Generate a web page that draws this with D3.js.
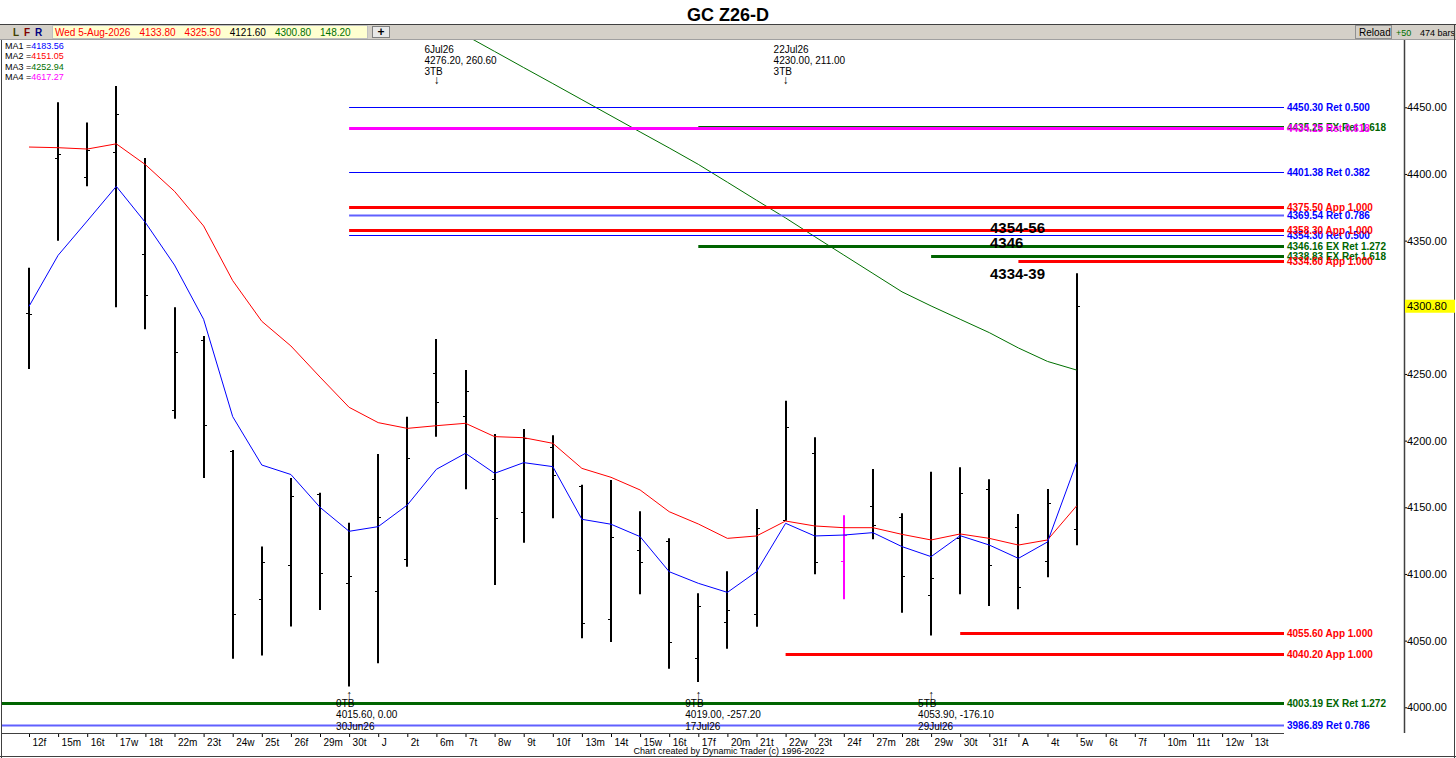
<!DOCTYPE html>
<html>
<head>
<meta charset="utf-8">
<script src="https://cdn.jsdelivr.net/npm/d3@7"></script>
<style>
  body { margin: 0; background: #fff; }
  text { font-family: "Liberation Sans", Arial, sans-serif; }
</style>
</head>
<body>
<div id="container"></div>
<script>
const width = 1456, height = 758;

/* DATA */
const title = "GC Z26-D";
const days = ["12f","15m","16t","17w","18t","22m","23t","24w","25t","26f",
  "29m","30t","J","2t","6m","7t","8w","9t","10f","13m",
  "14t","15w","16t","17f","20m","21t","22w","23t","24f","27m",
  "28t","29w","30t","31f","A","4t","5w","6t","7f","10m",
  "11t","12w","13t"];

const opens  = [4295.5,4412,4398,4416.5,4340,4223,4275.5,4192,4081,4106.8,
  4160,4093.5,4087,4111,4250.5,4218.5,4171,4146.7,4195,4166,
  4066,4118,4125,4037,4064,4070,4140.5,4190.5,4109.7,4151,
  4143,4084,4126.7,4163.7,4135.5,4109.7,4133.8];
const highs  = [4329.6,4453.7,4438.6,4466,4412,4300,4278.5,4193,4120.6,4172,
  4161,4138.5,4190,4218,4276.2,4253,4205,4208.7,4204,4167,
  4170.5,4147,4126.7,4085.5,4102,4148.7,4230,4202.5,4144,4178.7,
  4145.5,4176.7,4180,4171,4145,4163.7,4325.5];
const lows   = [4253.8,4350,4390.8,4300,4283.5,4216.5,4172,4036.5,4038.8,4060.6,
  4073,4015.6,4033,4105.5,4203,4163.5,4091.7,4123.5,4141.7,4051.7,
  4049,4084.7,4029,4019,4044,4060.5,4140,4099.7,4081,4126,
  4071,4053.9,4084.7,4076,4073.5,4097.5,4121.6];
const closes = [4295,4415,4418,4445,4309,4266.7,4212,4070,4109,4158.5,
  4100.6,4098.7,4143,4187,4229,4237,4142,4201.7,4174,4063.5,
  4128,4109,4049,4076,4073,4134.7,4210.5,4109,4129,4136.7,
  4098.7,4097,4160.5,4107,4090.5,4153,4300.8];
const signalBar = 28;   // 24f bar drawn in magenta

const ma1 = [4300.7,4339,4364.7,4390.7,4363.6,4331.7,4291,4218,4181.7,4174.6,
  4150,4132,4135.5,4151.7,4178.5,4190.5,4175.5,4183.5,4180.5,4141,
  4137.3,4128,4101.7,4093,4086.2,4101.7,4138,4128.5,4129.2,4131,
  4120.5,4113,4128.7,4121.7,4111.7,4124,4183.56];
const ma2 = [4420.2,4419.7,4418.7,4422.6,4407,4387,4361,4320,4289.5,4271,
  4247.7,4225,4213.5,4209.2,4211.2,4213,4203,4202.2,4198,4179.2,
  4172.5,4163,4146.7,4137.5,4126.7,4128.5,4139.7,4136,4134.7,4134.7,
  4129.7,4125.5,4130,4126.7,4121.7,4125.5,4151.05];
const ma3Start = 15;
const ma3 = [4504,4491.9,4479.8,4467.8,4455.7,4443.6,4431.5,4419.5,4407.2,4393.8,
  4380.3,4367,4353,4339.2,4325.4,4311.6,4301,4291,4281,4269.5,
  4259.4,4252.94];

const maNames  = ["MA1","MA2","MA3","MA4"];
const maLast   = ["4183.56","4151.05","4252.94","4617.27"];

const quoteTexts = ["Wed 5-Aug-2026","4133.80","4325.50","4121.60","4300.80","148.20"];

const levelValues = [4450.30,4435.25,4434.15,4401.38,4369.54,4375.50,4354.30,4358.30,
  4346.16,4338.83,4334.60,4055.60,4040.20,4003.19,3986.89];
const levelLabels = ["4450.30 Ret 0.500","4435.25 EX Ret 1.618","4434.15 Ret 0.618",
  "4401.38 Ret 0.382","4369.54 Ret 0.786","4375.50 App 1.000","4354.30 Ret 0.500",
  "4358.30 App 1.000","4346.16 EX Ret 1.272","4338.83 EX Ret 1.618","4334.60 App 1.000",
  "4055.60 App 1.000","4040.20 App 1.000","4003.19 EX Ret 1.272","3986.89 Ret 0.786"];
const levelKinds = ["ret","ex","ret618","ret","ret786","app","ret","app",
  "ex","ex","app","app","app","ex","ret786"];
const levelFrom = [11,23,11,11,11,11,11,11,23,31,34,32,26,-1,-1]; // bar index, -1 = left edge

const notes = ["4354-56","4346","4334-39"];
const notePrices = [4355.5,4344.8,4321.2];

const topPivots = [
  {bar: 14, lines: ["6Jul26","4276.20, 260.60","3TB"]},
  {bar: 26, lines: ["22Jul26","4230.00, 211.00","3TB"]}
];
const bottomPivots = [
  {bar: 11, lines: ["0TB","4015.60, 0.00","30Jun26"]},
  {bar: 23, lines: ["9TB","4019.00, -257.20","17Jul26"]},
  {bar: 31, lines: ["5TB","4053.90, -176.10","29Jul26"]}
];

/* LAYOUT */
const plotTop = 40, plotBottom = 733, plotLeft = 2, axisX = 1404, levelEnd = 1284;

const svg = d3.select("#container").append("svg")
  .attr("width", width)
  .attr("height", height)
  .style("display", "block");

/* SCALES */
const x = d3.scaleLinear().domain([0, days.length - 1]).range([29, 29 + 29.1 * (days.length - 1)]);
const y = d3.scaleLinear().domain([4000, 4450]).range([707.3, 107.3]);

svg.append("defs").append("clipPath").attr("id", "plot")
  .append("rect")
  .attr("x", plotLeft).attr("y", plotTop)
  .attr("width", axisX - plotLeft).attr("height", plotBottom - plotTop);

/* title + toolbar */
svg.append("text")
  .attr("x", 728).attr("y", 21)
  .attr("text-anchor", "middle")
  .style("font-size", "18px").style("font-weight", "bold")
  .text(title);

svg.append("rect").attr("x", 0).attr("y", 24).attr("width", width).attr("height", 16)
  .attr("fill", "#d4d0c8");
svg.append("line").attr("x1", 0).attr("x2", width).attr("y1", 24.5).attr("y2", 24.5)
  .attr("stroke", "#404040");
svg.append("line").attr("x1", 0).attr("x2", width).attr("y1", 39.5).attr("y2", 39.5)
  .attr("stroke", "#a0a0a0");

const lfr = [["L", "#404000"], ["F", "#800000"], ["R", "#000080"]];
lfr.forEach((d, i) => {
  svg.append("text").attr("x", 13 + i * 11).attr("y", 36)
    .style("font-size", "10px").style("font-weight", "bold")
    .attr("fill", d[1]).text(d[0]);
});

svg.append("rect").attr("x", 52.5).attr("y", 25.5).attr("width", 315).attr("height", 13)
  .attr("fill", "#ffffd0").attr("stroke", "#c0c0c0");
const quoteColors = ["#ff0000","#ff0000","#ff0000","#000000","#007000","#007000"];
let qx = 55;
quoteTexts.forEach((t, i) => {
  const el = svg.append("text").attr("x", qx).attr("y", 36)
    .style("font-size", "10px").attr("fill", quoteColors[i]).text(t);
  qx += el.node().getComputedTextLength() + 9;
});

svg.append("rect").attr("x", 372.5).attr("y", 26.5).attr("width", 17).attr("height", 11)
  .attr("fill", "#e8e8e8").attr("stroke", "#808080");
svg.append("text").attr("x", 381).attr("y", 36).attr("text-anchor", "middle")
  .style("font-size", "12px").style("font-weight", "bold").text("+");

svg.append("rect").attr("x", 1355.5).attr("y", 25.5).attr("width", 36).attr("height", 13)
  .attr("fill", "#d4d0c8").attr("stroke", "#909090");
svg.append("text").attr("x", 1359).attr("y", 36).style("font-size", "10px").text("Reload");
svg.append("text").attr("x", 1396).attr("y", 36).style("font-size", "9px")
  .attr("fill", "#007000").text("+50");
svg.append("text").attr("x", 1420).attr("y", 36).style("font-size", "9px").text("474 bars");

/* frame */
svg.append("line").attr("x1", 1.5).attr("x2", 1.5).attr("y1", 40).attr("y2", height)
  .attr("stroke", "#404040");
svg.append("line").attr("x1", 1454.5).attr("x2", 1454.5).attr("y1", 24).attr("y2", height)
  .attr("stroke", "#404040");
svg.append("line").attr("x1", 0).attr("x2", width).attr("y1", 756.5).attr("y2", 756.5)
  .attr("stroke", "#404040");

/* MA legend */
const maColors = ["#0000ff", "#ff0000", "#007000", "#ff00ff"];
maNames.forEach((n, i) => {
  const t = svg.append("text").attr("x", 5).attr("y", 49 + i * 10.3).style("font-size", "9px");
  t.append("tspan").attr("fill", "#000").text(n + " =");
  t.append("tspan").attr("fill", maColors[i]).text(maLast[i]);
});

const plot = svg.append("g").attr("clip-path", "url(#plot)");

/* level lines */
const levelStyle = {
  ret:    {stroke: "#0000ff", w: 1, text: "#0000ff"},
  ret786: {stroke: "#6060ff", w: 2, text: "#0000ff"},
  app:    {stroke: "#ff0000", w: 3, text: "#ff0000"},
  ex:     {stroke: "#006400", w: 3, text: "#006400"},
  ret618: {stroke: "#ff00ff", w: 3, text: "#ff00ff"}
};
levelValues.forEach((v, i) => {
  const s = levelStyle[levelKinds[i]];
  const x0 = levelFrom[i] < 0 ? plotLeft : x(levelFrom[i]);
  svg.append("line")
    .attr("x1", x0).attr("x2", levelEnd)
    .attr("y1", Math.round(y(v)) + 0.5).attr("y2", Math.round(y(v)) + 0.5)
    .attr("stroke", s.stroke).attr("stroke-width", s.w);
  svg.append("text")
    .attr("x", levelEnd + 3).attr("y", y(v) + 4)
    .style("font-size", "10px").style("font-weight", "bold")
    .attr("fill", s.text).text(levelLabels[i]);
});

/* price bars */
const bars = opens.map((o, i) => ({i, o, h: highs[i], l: lows[i], c: closes[i]}));
const barG = plot.append("g").selectAll("g.bar").data(bars).join("g").attr("class", "bar")
  .attr("stroke", d => d.i === signalBar ? "#ff00ff" : "#000");
barG.append("line")
  .attr("x1", d => Math.round(x(d.i))).attr("x2", d => Math.round(x(d.i)))
  .attr("y1", d => y(d.h)).attr("y2", d => y(d.l))
  .attr("stroke-width", 2);
barG.append("line")
  .attr("x1", d => Math.round(x(d.i)) - 3).attr("x2", d => Math.round(x(d.i)))
  .attr("y1", d => Math.round(y(d.o)) + 0.5).attr("y2", d => Math.round(y(d.o)) + 0.5)
  .attr("stroke-width", 1);
barG.append("line")
  .attr("x1", d => Math.round(x(d.i))).attr("x2", d => Math.round(x(d.i)) + 3)
  .attr("y1", d => Math.round(y(d.c)) + 0.5).attr("y2", d => Math.round(y(d.c)) + 0.5)
  .attr("stroke-width", 1);

/* moving averages */
const line = d3.line().x(d => x(d[0])).y(d => y(d[1]));
plot.append("path").datum(ma2.map((v, i) => [i, v]))
  .attr("d", line).attr("fill", "none").attr("stroke", "#ff0000").attr("stroke-width", 1);
plot.append("path").datum(ma1.map((v, i) => [i, v]))
  .attr("d", line).attr("fill", "none").attr("stroke", "#0000ff").attr("stroke-width", 1);
plot.append("path").datum(ma3.map((v, i) => [i + ma3Start, v]))
  .attr("d", line).attr("fill", "none").attr("stroke", "#007000").attr("stroke-width", 1);

/* notes */
notes.forEach((t, i) => {
  svg.append("text").attr("x", 990).attr("y", y(notePrices[i]))
    .style("font-size", "15px").style("font-weight", "bold").text(t);
});

/* pivots */
topPivots.forEach(p => {
  const px = x(p.bar);
  p.lines.forEach((t, k) => {
    svg.append("text").attr("x", px - 12).attr("y", 53 + k * 11)
      .style("font-size", "10px").text(t);
  });
  svg.append("text").attr("x", px).attr("y", 84).attr("text-anchor", "middle")
    .style("font-size", "12px").text("\u2193");
});
bottomPivots.forEach(p => {
  const px = x(p.bar);
  svg.append("text").attr("x", px).attr("y", 699).attr("text-anchor", "middle")
    .style("font-size", "12px").text("\u2191");
  p.lines.forEach((t, k) => {
    svg.append("text").attr("x", px - 13).attr("y", 707 + k * 11.3)
      .style("font-size", "10px").text(t);
  });
});

/* AXES */
const yAxis = d3.axisRight(y)
  .tickValues(d3.range(4000, 4451, 50))
  .tickFormat(d3.format(".2f"))
  .tickSize(3).tickPadding(0);
const yg = svg.append("g").attr("transform", `translate(${axisX},0)`).call(yAxis);
yg.select(".domain").remove();
yg.selectAll("text").style("font-size", "11px").style("font-family", "\"Liberation Sans\", Arial, sans-serif");
svg.append("line").attr("x1", axisX + 0.5).attr("x2", axisX + 0.5)
  .attr("y1", plotTop).attr("y2", plotBottom)
  .attr("stroke", "#404040").attr("stroke-width", 1.5);

// last price tag
const lastY = y(closes[closes.length - 1]);
svg.append("rect").attr("x", axisX + 1).attr("y", lastY - 6.5).attr("width", 50).attr("height", 13)
  .attr("fill", "#ffff00");
svg.append("text").attr("x", axisX + 3).attr("y", lastY + 4)
  .style("font-size", "11px").text(d3.format(".2f")(closes[closes.length - 1]));

const xAxis = d3.axisBottom(x)
  .tickValues(d3.range(days.length))
  .tickFormat(i => days[i])
  .tickSize(4).tickPadding(2);
const xg = svg.append("g").attr("transform", `translate(0,${plotBottom})`).call(xAxis);
xg.select(".domain").remove();
xg.selectAll("text")
  .attr("text-anchor", "start").attr("x", 3)
  .style("font-size", "10px").style("font-family", "\"Liberation Sans\", Arial, sans-serif");
svg.append("line").attr("x1", plotLeft).attr("x2", levelEnd)
  .attr("y1", plotBottom + 0.5).attr("y2", plotBottom + 0.5)
  .attr("stroke", "#404040");

svg.append("text").attr("x", 729).attr("y", 754).attr("text-anchor", "middle")
  .style("font-size", "9px").text("Chart created by Dynamic Trader  (c) 1996-2022");
</script>
</body>
</html>
